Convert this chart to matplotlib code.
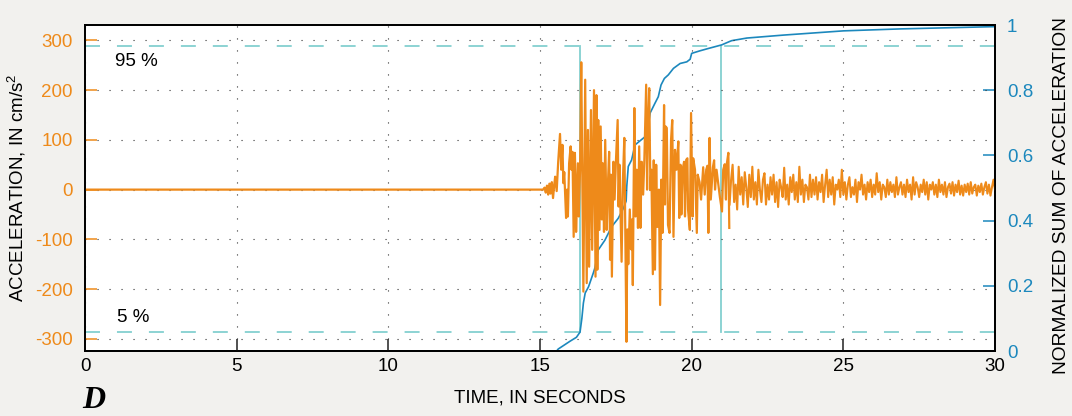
import numpy as np
import matplotlib.pyplot as plt
from matplotlib.ticker import FuncFormatter

plt.rcParams['font.family'] = ['Liberation Sans', 'DejaVu Sans']
plt.rcParams['axes.unicode_minus'] = False
plt.rcParams['mathtext.fontset'] = 'custom'
plt.rcParams['mathtext.rm'] = 'Liberation Sans'
plt.rcParams['mathtext.default'] = 'rm'

# acceleration record, vertices (seconds, cm/s^2)
strong_time = [0.0, 15.10, 15.15, 15.19, 15.23, 15.27, 15.31, 15.35, 15.39, 15.43,
               15.47, 15.50, 15.55, 15.60, 15.66, 15.70, 15.74, 15.77, 15.80, 15.86,
               15.89, 15.92, 15.96, 16.01, 16.04, 16.07, 16.11, 16.15, 16.17, 16.19,
               16.25, 16.28, 16.32, 16.36, 16.43, 16.49, 16.54, 16.58, 16.62, 16.68,
               16.72, 16.78, 16.83, 16.86, 16.89, 16.92, 16.96, 17.00, 17.04, 17.07,
               17.11, 17.15, 17.20, 17.24, 17.28, 17.31, 17.34, 17.37, 17.42, 17.46,
               17.50, 17.56, 17.59, 17.62, 17.69, 17.73, 17.78, 17.85, 17.88, 17.91,
               17.96, 18.00, 18.03, 18.06, 18.11, 18.15, 18.19, 18.23, 18.27, 18.31,
               18.35, 18.40, 18.44, 18.50, 18.53, 18.56, 18.60, 18.64, 18.67, 18.72,
               18.75, 18.79, 18.83, 18.87, 18.92, 18.96, 19.00, 19.04, 19.09, 19.12,
               19.14, 19.18, 19.22, 19.27, 19.32, 19.36, 19.40, 19.45, 19.50, 19.56,
               19.59, 19.63, 19.66, 19.70, 19.75, 19.78, 19.82, 19.86, 19.88, 19.94,
               19.98, 20.03, 20.05, 20.11, 20.17, 20.20, 20.26, 20.31, 20.38, 20.43,
               20.48, 20.52, 20.55, 20.59, 20.63, 20.70, 20.74, 20.77, 20.82, 20.88,
               20.93, 21.00, 21.04, 21.09, 21.13, 21.15, 21.21, 21.24]
strong_acc = [0, 0, 4, -6, 8, -10, 12, -8, 15, -17,
              10, 26, -3, 56, 112, 40, 90, 13, 35, -57,
              0, -54, 53, 87, 40, 76, -95, 74, 20, -85,
              53, -54, 40, 256, -205, 221, -188, 120, -155, 160,
              -121, 200, -175, 190, -161, 140, -81, 127, -60, 53,
              -85, 100, -81, 13, 76, -141, 30, -175, 56, -20,
              53, 140, -34, 50, -145, 13, 104, -306, -80, -150,
              -40, -120, -60, -192, 164, -54, 40, -77, 87, -77,
              56, -10, 60, 211, 0, 120, 204, 0, 40, -170,
              59, -161, 50, -75, 0, -232, 20, -87, 170, -30,
              127, 124, -71, -87, 100, 140, -95, 80, 40, 97,
              -57, 50, -50, 40, 56, -54, 60, 63, -40, -81,
              154, -54, 63, 40, -87, 30, 15, -20, 45, -10,
              40, 48, -87, 104, -20, 45, 59, 0, 40, 10,
              -15, -44, 40, 51, -20, 48, 74, -77]

# coda, one value every 0.05 s from 21.25 s to 30.00 s
tail_acc = [-30, 20, 50, -25, 10, -40, 46, -10, 25, -30, 35, 5, -35, 30, -15, 46,
            -20, 15, -30, 40, 0, -25, 20, 33, -30, 10, -20, 25, -10, 30, -25, 15, -35, 20, 5, -15,
            44, -20, 10, -30, 25, -5, 30, -20, 15, -25, 46, -10, 20, -25, 10, 5, -20, 30, -15, 20,
            -10, 25, -20, 15, -5, 30, -25, 10, 40, -15, 20, -10, 25, -30, 10, 0, 20, -15, 40, -10,
            15, -20, 10, 25, -15, 5, -10, 20, -25, 15, 0, 30, -10, 10, -20, 15, -5, 20, -15, 10,
            -10, 33, -5, 15, -20, 10, 5, -15, 20, -10, 15, -5, 10, -15, 25, -10, 5, 15, -10, 10,
            -15, 20, -5, 10, -20, 25, -10, 15, 5, -15, 10, -5, 20, -10, 15, -20, 10, 0, 15, -10,
            10, -15, 20, -5, 10, -10, 15, -15, 5, 12, -8, 15, -12, 10, -5, 18, -10, 8, -12, 10,
            -5, 12, -10, 15, -8, 5, 10, -12, 8, -5, 12, -10, 5, 15, -8, 10, -12, 5, 20, 0]
tail_time = np.linspace(21.25, 30.0, len(tail_acc))

# normalized cumulative sum of acceleration
husid_time = [0.0, 15.55, 15.60, 15.99, 16.20, 16.32, 16.38, 16.43, 16.49, 16.60,
              16.76, 16.81, 16.92, 17.14, 17.36, 17.58, 17.75, 17.84, 17.86, 17.91,
              18.02, 18.13, 18.46, 18.57, 18.63, 18.79, 18.90, 18.99, 19.10, 19.23,
              19.40, 19.62, 19.84, 19.95, 20.00, 20.28, 20.55, 20.99, 21.24, 21.32,
              21.82, 23.02, 25.00, 26.87, 30.00]
husid_value = [0.0, 0.0, 0.006, 0.03, 0.042, 0.058, 0.10, 0.147, 0.178, 0.197,
               0.24, 0.255, 0.31, 0.34, 0.381, 0.407, 0.438, 0.46, 0.504, 0.566,
               0.586, 0.632, 0.657, 0.693, 0.73, 0.76, 0.78, 0.816, 0.836, 0.847,
               0.867, 0.882, 0.887, 0.895, 0.913, 0.921, 0.928, 0.939, 0.949, 0.952,
               0.96, 0.969, 0.982, 0.988, 0.995]

t5, t95 = 16.33, 20.97
lo_level, hi_level = 0.058, 0.936

orange = '#ee8a1a'
blue = '#1c88bd'
cyan = '#84d0d0'
bg = '#f2f1ee'

fig = plt.figure(figsize=(10.72, 4.16), dpi=100, facecolor=bg)
ax = fig.add_axes([85 / 1072, 65 / 416, 910 / 1072, 326 / 416])
ax2 = ax.twinx()
ax.set_zorder(ax2.get_zorder() + 1)
ax.patch.set_visible(False)
ax2.patch.set_visible(True)
ax2.patch.set_facecolor('white')

# right axis: 5 % / 95 % levels and the cumulative curve
ax2.axhline(lo_level, color=cyan, lw=1.3, dashes=(8.3, 9.4))
ax2.axhline(hi_level, color=cyan, lw=1.3, dashes=(8.3, 9.4))
ax2.plot([t5, t5], [lo_level, hi_level], color=cyan, lw=1.3)
ax2.plot([t95, t95], [lo_level, hi_level], color=cyan, lw=1.3)
ax2.plot(husid_time, husid_value, color=blue, lw=1.2)
ax2.set_ylim(0, 1.0)
ax2.set_yticks([0, 0.2, 0.4, 0.6, 0.8, 1.0])
ax2.yaxis.set_major_formatter(FuncFormatter(lambda v, p: '%g' % v))
ax2.tick_params(axis='y', direction='in', length=8.6, width=1.1, colors=blue,
                pad=8.5, labelsize=13.5)

# left axis: acceleration
ax.plot(strong_time, strong_acc, color=orange, lw=1.6)
ax.plot(tail_time, tail_acc, color=orange, lw=1.5)
ax.set_xlim(0, 30)
ax.set_ylim(-324.5, 331)
ax.set_xticks([0, 5, 10, 15, 20, 25, 30])
ax.set_yticks([-300, -200, -100, 0, 100, 200, 300])
ax.grid(True, color='#333333', linestyle=(0, (1, 9.8)), lw=0.8)
ax.tick_params(axis='y', direction='in', length=8.6, width=1.1, colors=orange,
               pad=9, labelsize=13.5)
ax.tick_params(axis='x', direction='in', length=9, width=1.2, color='#333333',
               labelcolor='black', pad=5, labelsize=13.5)

for a in (ax, ax2):
    for s in a.spines.values():
        s.set_linewidth(1.3)
        s.set_color('black')

ax.text(0.99, 257, '95 %', fontsize=13.5, ha='left', va='center')
ax.text(1.05, -258, '5 %', fontsize=13.5, ha='left', va='center')

fig.text(17 / 1072, 1 - 188 / 416, 'ACCELERATION, IN cm/s$^2$', rotation=90,
         ha='center', va='center', fontsize=13.5)
fig.text(1062 / 1072, 1 - 196 / 416, 'NORMALIZED SUM OF ACCELERATION', rotation=90,
         ha='center', va='center', fontsize=13.8)
fig.text(540 / 1072, 1 - 398 / 416, 'TIME, IN SECONDS', ha='center', va='center',
         fontsize=13.5)
fig.text(82 / 1072, 1 / 416, 'D', family='Liberation Serif', weight='bold',
         style='italic', fontsize=23, ha='left', va='bottom')

fig.savefig('out.png', dpi=100, facecolor=bg)
